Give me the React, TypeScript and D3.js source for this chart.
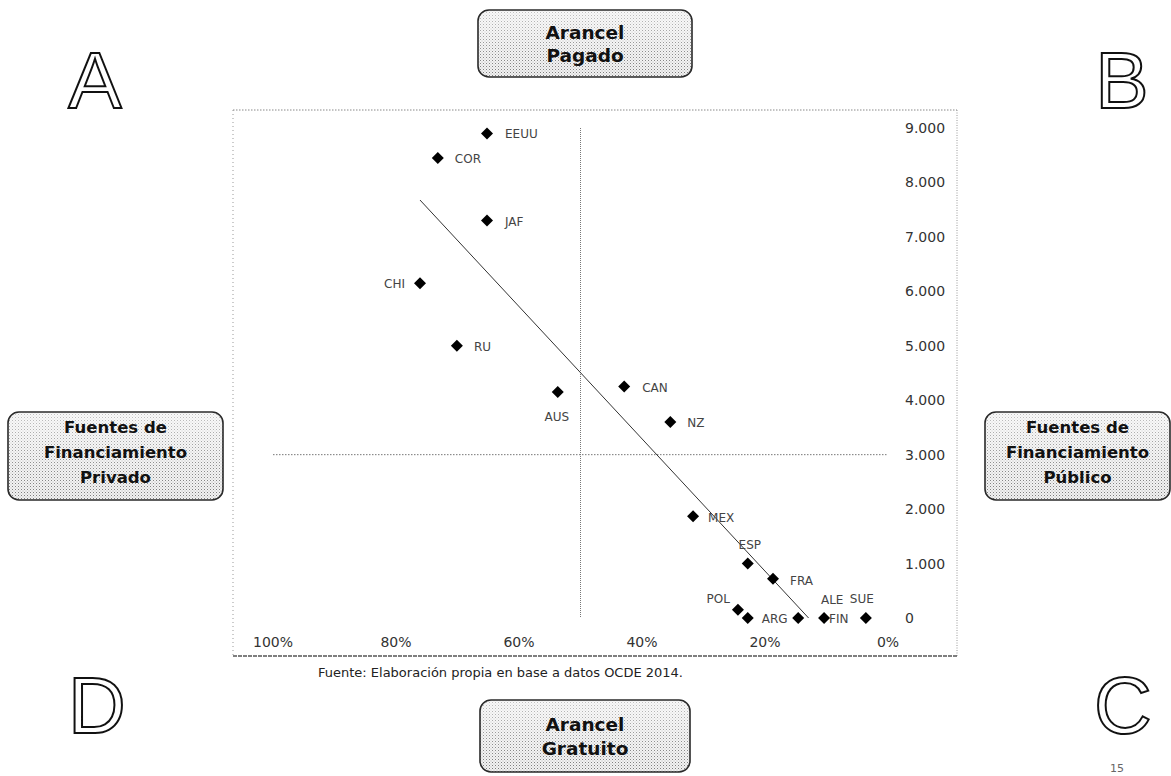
import React from "react";
import * as d3 from "d3";

// ---- data ----
const countries = ["EEUU", "COR", "JAF", "CHI", "RU", "AUS", "CAN", "NZ", "MEX", "ESP", "FRA", "POL", "ARG", "ALE", "FIN", "SUE"];
// % of private funding (x axis, reversed: 100% left, 0% right)
const privateShare = [65.2, 73.2, 65.2, 76.1, 70.1, 53.7, 42.9, 35.4, 31.7, 22.8, 18.7, 24.4, 22.8, 14.6, 10.4, 3.6];
// tuition paid (y axis)
const tuition = [8900, 8450, 7300, 6150, 5000, 4150, 4250, 3600, 1870, 1000, 720, 150, 0, 0, 0, 0];
const xTicks = [100, 80, 60, 40, 20, 0];
const xTickLabels = ["100%", "80%", "60%", "40%", "20%", "0%"];
const yTicks = [0, 1000, 2000, 3000, 4000, 5000, 6000, 7000, 8000, 9000];
const yTickLabels = ["0", "1.000", "2.000", "3.000", "4.000", "5.000", "6.000", "7.000", "8.000", "9.000"];
const xCross = 50;
const yCross = 3000;
const footnote = "Fuente: Elaboración propia en base a datos OCDE 2014.";
const topBox = ["Arancel", "Pagado"];
const bottomBox = ["Arancel", "Gratuito"];
const leftBox = ["Fuentes de", "Financiamiento", "Privado"];
const rightBox = ["Fuentes de", "Financiamiento", "Público"];
const cornerLetters = ["A", "B", "C", "D"];
const pageNumber = "15";

// label placement (style): anchor, dx, dy
const labelPlacement: Record<string, [string, number, number]> = {
  EEUU: ["start", 18, 5],
  COR: ["start", 17, 5],
  JAF: ["start", 18, 5],
  CHI: ["end", -15, 5],
  RU: ["start", 17, 5],
  AUS: ["middle", -1, 29],
  CAN: ["start", 18, 5],
  NZ: ["start", 17, 5],
  MEX: ["start", 15, 6],
  ESP: ["middle", 2, -15],
  FRA: ["start", 17, 6],
  POL: ["end", -8, -7],
  ARG: ["start", 14, 5],
  ALE: ["middle", 34, -14],
  FIN: ["start", 5, 5],
  SUE: ["middle", -4, -15],
};

const W = 1171;
const H = 776;
const FONT = "'DejaVu Sans', sans-serif";
const BOXFONT = "'DejaVu Sans', sans-serif";

export default function App() {
  const x = d3.scaleLinear().domain([100, 0]).range([273, 888]);
  const y = d3.scaleLinear().domain([0, 9000]).range([618, 128]);

  // linear regression trend line
  const n = privateShare.length;
  const mx = d3.mean(privateShare)!;
  const my = d3.mean(tuition)!;
  let sxy = 0, sxx = 0;
  for (let i = 0; i < n; i++) {
    sxy += (privateShare[i] - mx) * (tuition[i] - my);
    sxx += (privateShare[i] - mx) ** 2;
  }
  const slope = sxy / sxx;
  const icpt = my - slope * mx;
  const xStart = d3.max(privateShare)!;
  const xEnd = -icpt / slope;
  const trend = d3.line<number>().x((p) => x(p)).y((p) => y(icpt + slope * p))([xStart, xEnd]);

  const diamond = d3.symbol().type(d3.symbolSquare).size(72)();

  const box = (bx: number, by: number, bw: number, bh: number, lines: string[], fs: number, lh: number, key: string, cyOff = 0) => {
    const cy = by + bh / 2 + cyOff;
    const first = cy - ((lines.length - 1) * lh) / 2;
    return (
      <g key={key}>
        <rect x={bx} y={by} width={bw} height={bh} rx={11} fill="url(#stip)" />
        <rect x={bx} y={by} width={bw} height={bh} rx={11} fill="url(#fade)" stroke="#2a2a2a" strokeWidth={1.6} />
        {lines.map((t, i) => (
          <text key={i} x={bx + bw / 2} y={first + i * lh} dy="0.36em" textAnchor="middle" fontFamily={BOXFONT} fontWeight="bold" fontSize={fs} fill="#111">
            {t}
          </text>
        ))}
      </g>
    );
  };

  const letterPos: [number, number][] = [
    [95, 108],
    [1122, 108],
    [1123, 733],
    [97, 733],
  ];

  return (
    <svg width={W} height={H} style={{ position: "absolute", left: 0, top: 0, background: "#fff" }}>
      <defs>
        <pattern id="stip" width={3} height={3} patternUnits="userSpaceOnUse">
          <rect width={3} height={3} fill="#f2f2f2" />
          <rect x={0} y={0} width={1} height={1} fill="#7a7a7a" />
          <rect x={1.5} y={1.5} width={1} height={1} fill="#b0b0b0" />
        </pattern>
        <linearGradient id="fade" x1="0" y1="0" x2="0" y2="1">
          <stop offset="0" stopColor="#fff" stopOpacity={0.55} />
          <stop offset="0.6" stopColor="#fff" stopOpacity={0.15} />
          <stop offset="1" stopColor="#fff" stopOpacity={0} />
        </linearGradient>
      </defs>

      {/* chart frame */}
      <line x1={233} y1={110} x2={957} y2={110} stroke="#888" strokeWidth={1} strokeDasharray="1.5 1.5" />
      <line x1={233} y1={110} x2={233} y2={656} stroke="#999" strokeWidth={1} strokeDasharray="1 3" />
      <line x1={957} y1={110} x2={957} y2={656} stroke="#999" strokeWidth={1} strokeDasharray="1 1.5" />
      <line x1={233} y1={656} x2={957} y2={656} stroke="#555" strokeWidth={1.3} strokeDasharray="4 1" />

      {/* crossing reference lines */}
      <line x1={x(xCross)} x2={x(xCross)} y1={y(9000)} y2={y(0)} stroke="#777" strokeWidth={1} strokeDasharray="1 1" />
      <line x1={x(100)} x2={x(0)} y1={y(yCross)} y2={y(yCross)} stroke="#777" strokeWidth={1} strokeDasharray="1.5 1.5" />

      {/* trend */}
      <path d={trend!} fill="none" stroke="#333" strokeWidth={1} />

      {/* y tick labels */}
      {yTicks.map((t, i) => (
        <text key={t} x={905} y={y(t)} dy="0.36em" fontFamily={FONT} fontSize={14} fill="#333">
          {yTickLabels[i]}
        </text>
      ))}
      {/* x tick labels */}
      {xTicks.map((t, i) => (
        <text key={t} x={x(t)} y={642} dy="0.36em" textAnchor="middle" fontFamily={FONT} fontSize={14} fill="#333">
          {xTickLabels[i]}
        </text>
      ))}

      {/* points */}
      {countries.map((c, i) => {
        const px = x(privateShare[i]);
        const py = y(tuition[i]);
        const [anchor, dx, dy] = labelPlacement[c];
        return (
          <g key={c}>
            <path d={diamond!} transform={`translate(${px},${py}) rotate(45)`} fill="#000" />
            <text x={px + dx} y={py + dy} textAnchor={anchor} fontFamily={FONT} fontSize={12} fill="#444">
              {c}
            </text>
          </g>
        );
      })}

      {/* footnote */}
      <text x={318} y={677} fontFamily={FONT} fontSize={12} fill="#222" textLength={365} lengthAdjust="spacingAndGlyphs">
        {footnote}
      </text>

      {/* boxes */}
      {box(478, 10, 214, 67, topBox, 18.5, 23, "top")}
      {box(480, 700, 210, 72, bottomBox, 18.5, 24, "bottom")}
      {box(8, 412, 215, 88, leftBox, 16.5, 25, "left", -4)}
      {box(985, 412, 185, 88, rightBox, 16.5, 25, "right", -4)}

      {/* corner letters */}
      {cornerLetters.map((l, i) => (
        <text key={l} x={letterPos[i][0]} y={letterPos[i][1]} textAnchor="middle" fontFamily="'Liberation Sans', sans-serif" fontSize={80} fill="#fff" stroke="#111" strokeWidth={2}>
          {l}
        </text>
      ))}

      <text x={1117} y={772} textAnchor="middle" fontFamily={FONT} fontSize={11} fill="#666">
        {pageNumber}
      </text>
    </svg>
  );
}
